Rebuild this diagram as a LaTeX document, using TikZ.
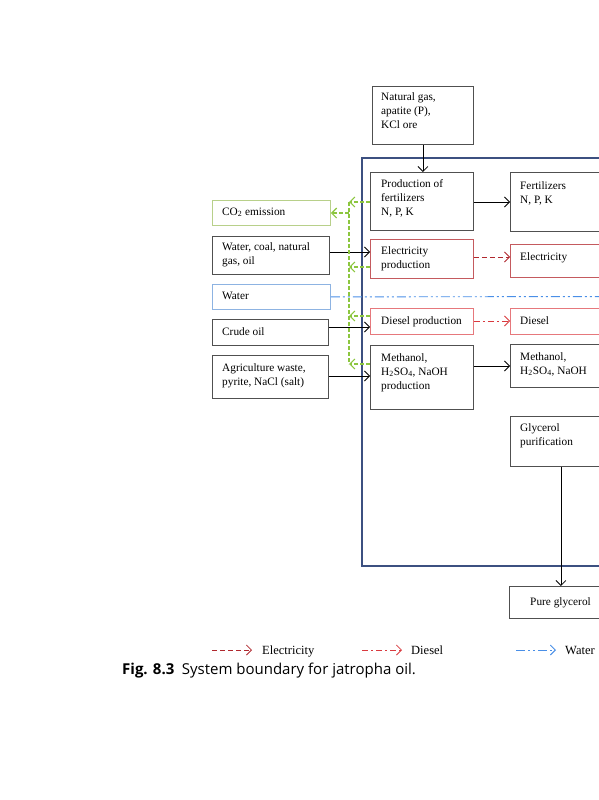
\documentclass[tikz,border=0pt]{standalone}
\usepackage{fontspec}
\setmainfont{Liberation Serif}
\setsansfont{Open Sans}
\usetikzlibrary{arrows.meta}
\definecolor{boxgray}{HTML}{505050}
\definecolor{bound}{HTML}{3C5080}
\definecolor{gline}{HTML}{8CC63F}
\definecolor{gbox}{HTML}{B8D08A}
\definecolor{redbox}{HTML}{C45A5E}
\definecolor{pinkbox}{HTML}{E6787C}
\definecolor{elecred}{HTML}{B0282E}
\definecolor{dieselred}{HTML}{D93A3F}
\definecolor{wblue}{HTML}{4A8FE7}
\definecolor{wbox}{HTML}{8DB3E2}
\tikzset{
  box/.style={draw=boxgray, line width=0.8pt, inner sep=0pt, anchor=north west},
  txt/.style={anchor=base west, align=left, inner sep=0pt, font=\fontsize{11.3}{14}\selectfont},
  legtxt/.style={anchor=base west, inner sep=0pt, font=\fontsize{12.5}{14}\selectfont},
  arr/.style={-{Straight Barb[length=5pt,width=10pt]}, line width=0.8pt},
  elecarr/.style={arr, draw=elecred, dash pattern=on 5pt off 3pt},
  dieselarr/.style={arr, draw=dieselred, dash pattern=on 6pt off 3pt on 2pt off 3pt},
  waterline/.style={line width=0.9pt, draw=wblue, dash pattern=on 9pt off 3pt on 2pt off 3pt on 2pt off 3pt},
  waterarr/.style={waterline, -{Straight Barb[length=5pt,width=10pt]}},
  greenline/.style={line width=1.2pt, draw=gline, dash pattern=on 4pt off 2pt},
  greenarr/.style={greenline, -{Straight Barb[length=5pt,width=10pt]}},
}
\begin{document}
\begin{tikzpicture}[x=1pt,y=-1pt]
\useasboundingbox (0,0) rectangle (599,800);
\clip (0,0) rectangle (599,800);
% boundary
\draw[bound, line width=2.2pt] (362,158) rectangle (640,566);
% top
\node[box, minimum width=101, minimum height=58] (nat) at (372,86) {};
\node[txt] (natT) at (381,128) {Natural gas,\\apatite (P),\\KCl ore};
% column 1
\node[box, minimum width=103, minimum height=58] (fertp) at (370,172) {};
\node[txt] (fertpT) at (381,215) {Production of\\fertilizers\\N, P, K};
\node[box, draw=redbox, minimum width=103, minimum height=39] (elecp) at (370,239) {};
\node[txt] (elecpT) at (381,268) {Electricity\\production};
\node[box, draw=pinkbox, minimum width=103, minimum height=26] (dieselp) at (370,308) {};
\node[txt] (dieselpT) at (381,324) {Diesel production};
\node[box, minimum width=103, minimum height=64] (methp) at (370,345) {};
\node[txt] (methpT) at (381,389) {Methanol,\\H\textsubscript{2}SO\textsubscript{4}, NaOH\\production};
% column 2
\node[box, minimum width=110, minimum height=59] (fert) at (510,172) {};
\node[txt] (fertT) at (520,203) {Fertilizers\\N, P, K};
\node[box, draw=redbox, minimum width=110, minimum height=33] (elec) at (510,244) {};
\node[txt] (elecT) at (520,260) {Electricity};
\node[box, draw=pinkbox, minimum width=110, minimum height=26] (diesel) at (510,308) {};
\node[txt] (dieselT) at (520,324) {Diesel};
\node[box, minimum width=110, minimum height=43] (meth) at (510,344) {};
\node[txt] (methT) at (520,374) {Methanol,\\H\textsubscript{2}SO\textsubscript{4}, NaOH};
\node[box, minimum width=110, minimum height=50] (gly) at (510,416) {};
\node[txt] (glyT) at (520,445) {Glycerol\\purification};
\node[box, minimum width=103, minimum height=32] (pure) at (509,586) {};
\node[txt, anchor=base] (pureT) at (560.5,605) {Pure glycerol};
% left column
\node[box, draw=gbox, minimum width=118, minimum height=25] (co2) at (212,200) {};
\node[txt] (co2T) at (222,215) {CO\textsubscript{2} emission};
\node[box, minimum width=117, minimum height=38] (wcoal) at (212,236) {};
\node[txt] (wcoalT) at (222,264) {Water, coal, natural\\gas, oil};
\node[box, draw=wbox, minimum width=118, minimum height=25] (water) at (212,284) {};
\node[txt] (waterT) at (222,299) {Water};
\node[box, minimum width=116, minimum height=26] (crude) at (212,319) {};
\node[txt] (crudeT) at (222,335) {Crude oil};
\node[box, minimum width=116, minimum height=43] (agri) at (212,355) {};
\node[txt] (agriT) at (222,385) {Agriculture waste,\\pyrite, NaCl (salt)};
% black arrows
\draw[arr] (nat.south) -- (nat.south |- fertp.north);
\draw[arr] (fertp.east |- 0,202) -- (fert.west |- 0,202);
\draw[arr] (methp.east |- 0,366) -- (meth.west |- 0,366);
\draw[arr] (pure.north |- gly.south) -- (pure.north);
\draw[arr] (wcoal.east |- 0,252) -- (elecp.west |- 0,252);
\draw[arr] (crude.east |- 0,327) -- (dieselp.west |- 0,327);
\draw[arr] (agri.east |- 0,376) -- (methp.west |- 0,376);
% coloured arrows
\draw[elecarr] (elecp.east |- 0,257) -- (elec.west |- 0,257);
\draw[dieselarr] (dieselp.east |- 0,321) -- (diesel.west |- 0,321);
\coordinate (wend) at (640,296.5);
\draw[waterline] (water.east) -- (wend);
% green emissions
\coordinate (gv1) at (349,202);
\coordinate (gv2) at (349,364);
\coordinate (gco) at (349,213);
\draw[greenline] (gv1) -- (gv2);
\draw[greenarr] (fertp.west |- gv1) -- (gv1);
\draw[greenarr] (elecp.west |- 0,267) -- (gv1 |- 0,267);
\draw[greenarr] (dieselp.west |- 0,316) -- (gv1 |- 0,316);
\draw[greenarr] (methp.west |- gv2) -- (gv2);
\draw[greenarr] (gco) -- (co2.east |- gco);
% legend
\coordinate (l1a) at (212,650); \coordinate (l1b) at (252,650);
\coordinate (l2a) at (362,650); \coordinate (l2b) at (402,650);
\coordinate (l3a) at (516,650); \coordinate (l3b) at (556,650);
\draw[elecarr] (l1a) -- (l1b);
\node[legtxt] (leg1) at (262,654) {Electricity};
\draw[dieselarr] (l2a) -- (l2b);
\node[legtxt] (leg2) at (411,654) {Diesel};
\draw[waterarr] (l3a) -- (l3b);
\node[legtxt] (leg3) at (565,654) {Water};
% caption
\node[anchor=base west, inner sep=0pt, font=\fontsize{15}{17}\selectfont\sffamily] (cap) at (122,674) {\textbf{Fig. 8.3}\hspace{0.5em}System boundary for jatropha oil.};
\end{tikzpicture}
\end{document}
